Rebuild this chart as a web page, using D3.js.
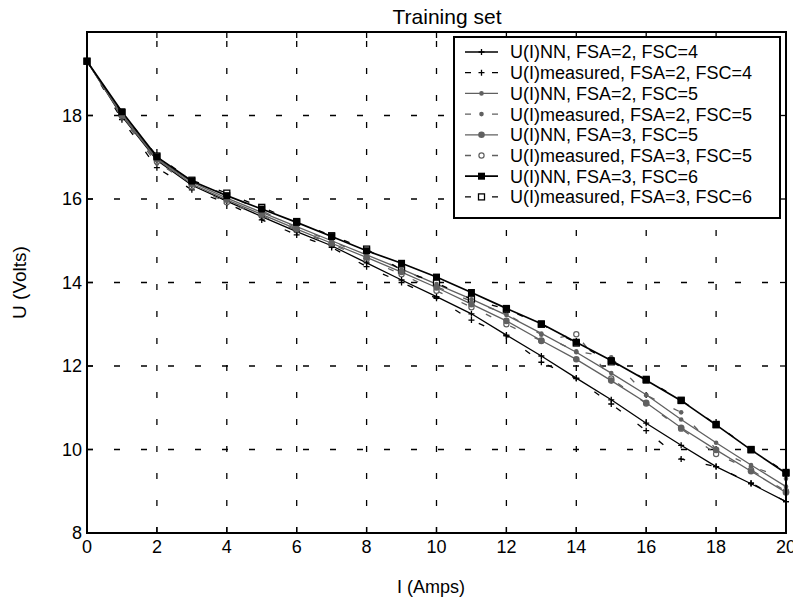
<!DOCTYPE html>
<html>
<head>
<meta charset="utf-8">
<script src="https://cdn.jsdelivr.net/npm/d3@7"></script>
<style>
  body { margin: 0; background: #fff; }
  svg { font-family: "Liberation Sans", Arial, sans-serif; }
</style>
</head>
<body>
<svg id="chart" width="793" height="604"></svg>
<script>
// current values (Amps)
const amps = [0, 1, 2, 3, 4, 5, 6, 7, 8, 9, 10, 11, 12, 13, 14, 15, 16, 17, 18, 19, 20];

// voltages
const nn_2_4   = [19.3, 17.98, 16.93, 16.33, 15.95, 15.58, 15.22, 14.88, 14.47, 14.06, 13.66, 13.25, 12.74, 12.24, 11.71, 11.19, 10.63, 10.1, 9.59, 9.18, 8.75];
const meas_2_4 = [19.3, 17.9, 16.75, 16.22, 15.9, 15.5, 15.14, 14.84, 14.38, 14.0, 13.62, 13.1, 12.72, 12.09, 11.7, 11.09, 10.45, 9.77, 9.59, 9.2, 8.75];
const nn_2_5   = [19.3, 18.03, 16.97, 16.4, 16.02, 15.68, 15.34, 15.0, 14.66, 14.32, 13.96, 13.6, 13.22, 12.78, 12.33, 11.83, 11.31, 10.72, 10.16, 9.63, 9.11];
const meas_2_5 = [19.3, 17.95, 16.85, 16.42, 16.1, 15.72, 15.3, 15.0, 14.62, 14.35, 13.9, 13.55, 13.25, 12.75, 12.35, 12.21, 11.3, 10.89, 10.01, 9.6, 9.3];
const nn_3_5   = [19.3, 18.0, 16.95, 16.36, 15.98, 15.63, 15.28, 14.94, 14.6, 14.25, 13.88, 13.48, 13.08, 12.61, 12.16, 11.65, 11.12, 10.52, 9.99, 9.48, 8.97];
const meas_3_5 = [19.3, 17.98, 16.9, 16.3, 15.92, 15.6, 15.25, 14.92, 14.55, 14.2, 13.8, 13.41, 13.0, 12.6, 12.76, 11.7, 11.1, 10.5, 9.89, 9.51, 9.0];
const nn_3_6   = [19.3, 18.09, 17.01, 16.43, 16.08, 15.76, 15.44, 15.1, 14.76, 14.46, 14.13, 13.76, 13.38, 13.01, 12.57, 12.13, 11.66, 11.17, 10.59, 9.99, 9.43];
const meas_3_6 = [19.3, 18.07, 17.03, 16.45, 16.14, 15.8, 15.46, 15.12, 14.8, 14.3, 13.99, 13.6, 13.36, 13.0, 12.55, 12.1, 11.68, 11.18, 10.6, 10.0, 9.45];

const xTicks = [0, 2, 4, 6, 8, 10, 12, 14, 16, 18, 20];
const yTicks = [8, 10, 12, 14, 16, 18];

const legendLabels = [
  "U(I)NN, FSA=2, FSC=4",
  "U(I)measured, FSA=2, FSC=4",
  "U(I)NN, FSA=2, FSC=5",
  "U(I)measured, FSA=2, FSC=5",
  "U(I)NN, FSA=3, FSC=5",
  "U(I)measured, FSA=3, FSC=5",
  "U(I)NN, FSA=3, FSC=6",
  "U(I)measured, FSA=3, FSC=6"
];

const gray = "#606060";
const series = [
  {values: nn_2_4,   color: "#000", dash: null,   marker: "plus",   width: 1.3},
  {values: meas_2_4, color: "#000", dash: "6,21", marker: "plus",   width: 1.3},
  {values: nn_2_5,   color: gray,   dash: null,   marker: "dot",    width: 1.3},
  {values: meas_2_5, color: gray,   dash: "6,21", marker: "dot",    width: 1.3},
  {values: nn_3_5,   color: gray,   dash: null,   marker: "circle", width: 1.3},
  {values: meas_3_5, color: gray,   dash: "6,21", marker: "ocircle",width: 1.3},
  {values: nn_3_6,   color: "#000", dash: null,   marker: "square", width: 1.7},
  {values: meas_3_6, color: "#000", dash: "6,21", marker: "osquare",width: 1.3}
];

const pLeft = 87, pTop = 32, pRight = 786, pBottom = 533;

const svg = d3.select("#chart");

const x = d3.scaleLinear().domain([0, 20]).range([pLeft, pRight]);
const y = d3.scaleLinear().domain([8, 20]).range([pBottom, pTop]);

// grid
const grid = svg.append("g").attr("stroke", "#000").attr("stroke-width", 1.3)
  .attr("stroke-dasharray", "6,21");
grid.selectAll("line.vx").data(xTicks.slice(1, -1)).enter().append("line")
  .attr("x1", d => x(d)).attr("x2", d => x(d))
  .attr("y1", pBottom).attr("y2", pTop);
grid.selectAll("line.hy").data(yTicks.slice(1)).enter().append("line")
  .attr("x1", pLeft).attr("x2", pRight)
  .attr("y1", d => y(d)).attr("y2", d => y(d));

// markers
function drawMarker(g, type, cx, cy, color) {
  if (type === "plus") {
    g.append("path").attr("d", `M${cx - 3},${cy}H${cx + 3}M${cx},${cy - 3}V${cy + 3}`)
      .attr("stroke", color).attr("stroke-width", 1.3).attr("fill", "none");
  } else if (type === "dot") {
    g.append("circle").attr("cx", cx).attr("cy", cy).attr("r", 2.3).attr("fill", color);
  } else if (type === "circle") {
    g.append("circle").attr("cx", cx).attr("cy", cy).attr("r", 3.3).attr("fill", color);
  } else if (type === "ocircle") {
    g.append("circle").attr("cx", cx).attr("cy", cy).attr("r", 2.6)
      .attr("fill", "#fff").attr("stroke", color).attr("stroke-width", 1.2);
  } else if (type === "square") {
    g.append("rect").attr("x", cx - 3.5).attr("y", cy - 3.5).attr("width", 7).attr("height", 7)
      .attr("fill", color);
  } else if (type === "osquare") {
    g.append("rect").attr("x", cx - 3).attr("y", cy - 3).attr("width", 6).attr("height", 6)
      .attr("fill", "#fff").attr("stroke", color).attr("stroke-width", 1.3);
  }
}

const line = d3.line().x((d, i) => x(amps[i])).y(d => y(d));

const plot = svg.append("g");
series.forEach(s => {
  plot.append("path").datum(s.values)
    .attr("d", line)
    .attr("fill", "none")
    .attr("stroke", s.color)
    .attr("stroke-width", s.width)
    .attr("stroke-dasharray", s.dash);
});
// measured markers first, NN markers on top
const markerOrder = [1, 3, 5, 7, 0, 2, 4, 6];
markerOrder.forEach(k => {
  const s = series[k];
  const mg = plot.append("g");
  s.values.forEach((v, i) => drawMarker(mg, s.marker, x(amps[i]), y(v), s.color));
});

// axes box with inward ticks
const axes = svg.append("g").attr("stroke", "#000").attr("stroke-width", 1.3);
const tickLen = 6;
xTicks.forEach(t => {
  axes.append("line").attr("x1", x(t)).attr("x2", x(t)).attr("y1", pBottom).attr("y2", pBottom - tickLen);
  axes.append("line").attr("x1", x(t)).attr("x2", x(t)).attr("y1", pTop).attr("y2", pTop + tickLen);
});
yTicks.forEach(t => {
  axes.append("line").attr("x1", pLeft).attr("x2", pLeft + tickLen).attr("y1", y(t)).attr("y2", y(t));
  axes.append("line").attr("x1", pRight).attr("x2", pRight - tickLen).attr("y1", y(t)).attr("y2", y(t));
});
svg.append("rect")
  .attr("x", pLeft).attr("y", pTop)
  .attr("width", pRight - pLeft).attr("height", pBottom - pTop)
  .attr("fill", "none").attr("stroke", "#000").attr("stroke-width", 2);

// tick labels
svg.append("g").selectAll("text").data(xTicks).enter().append("text")
  .attr("x", d => x(d)).attr("y", pBottom + 20)
  .attr("text-anchor", "middle").attr("font-size", 18)
  .text(d => d);
svg.append("g").selectAll("text").data(yTicks).enter().append("text")
  .attr("x", pLeft - 5).attr("y", d => y(d)).attr("dy", "0.36em")
  .attr("text-anchor", "end").attr("font-size", 18)
  .text(d => d);

// title and axis labels
svg.append("text").attr("x", 447).attr("y", 24).attr("text-anchor", "middle")
  .attr("font-size", 21).text("Training set");
svg.append("text").attr("x", 431).attr("y", 593).attr("text-anchor", "middle")
  .attr("font-size", 18).text("I (Amps)");
svg.append("text").attr("transform", `translate(26,${(pTop + pBottom) / 2}) rotate(-90)`)
  .attr("text-anchor", "middle").attr("font-size", 19).text("U (Volts)");

// legend
const lg = svg.append("g");
lg.append("rect").attr("x", 454).attr("y", 37).attr("width", 326).attr("height", 181)
  .attr("fill", "#fff").attr("stroke", "#000").attr("stroke-width", 2);
series.forEach((s, i) => {
  const ly = 52 + i * 20.7;
  lg.append("line").attr("x1", 465).attr("x2", 498).attr("y1", ly).attr("y2", ly)
    .attr("stroke", s.color).attr("stroke-width", s.width)
    .attr("stroke-dasharray", s.dash);
  drawMarker(lg, s.marker, 481.5, ly, s.color);
  lg.append("text").attr("x", 510).attr("y", ly).attr("dy", "0.36em")
    .attr("font-size", 18).text(legendLabels[i]);
});
</script>
</body>
</html>
